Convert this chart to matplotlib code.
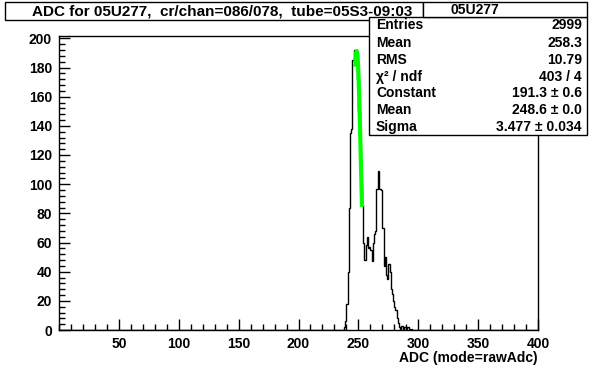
import numpy as np
from matplotlib import pyplot as plt
from matplotlib.ticker import MultipleLocator, FixedLocator

plt.rcParams['font.family'] = ['Liberation Sans', 'DejaVu Sans']
plt.rcParams['font.weight'] = 'bold'

# histogram contents (1 ADC wide bins)
adc = [238, 239, 240, 241, 242, 243, 244, 245, 246, 247, 248, 249, 250, 251,
       252, 253, 254, 255, 256, 257, 258, 259, 260, 261, 262, 263, 264, 265,
       266, 267, 268, 269, 270, 271, 272, 273, 274, 275, 276, 277, 278, 279,
       280, 281, 282, 283, 284, 285, 286, 287, 288, 289, 290, 291, 292, 294]
counts = [2, 6, 18, 40, 84, 135, 138, 185, 192, 190, 188, 172, 150, 122,
          100, 86, 60, 48, 58, 64, 56, 57, 55, 47, 60, 66, 68, 97,
          109, 97, 97, 96, 70, 44, 50, 38, 35, 45, 40, 28, 25, 20,
          16, 14, 8, 5, 2, 1, 3, 1, 2, 2, 1, 2, 1, 1]

# gaussian fit result
fit_const = 191.3
fit_mean = 248.6
fit_sigma = 3.477
fit_range = (247.5, 253.0)

title = 'ADC for 05U277,  cr/chan=086/078,  tube=05S3-09:03'
stat_name = '05U277'
stat_rows = [('Entries', '2999'),
             ('Mean', '258.3'),
             ('RMS', '10.79'),
             ('\u03c7\u00b2 / ndf', '403 / 4'),
             ('Constant', '191.3 \u00b1 0.6'),
             ('Mean', '248.6 \u00b1 0.0'),
             ('Sigma', '3.477 \u00b1 0.034')]

W, H = 596, 368
fig = plt.figure(figsize=(W / 100, H / 100), dpi=100)
ax = fig.add_axes([59 / W, 1 - 330 / H, (538 - 59) / W, (330 - 36) / H])

edges = np.arange(0, 401)
h = np.zeros(400)
for a, c in zip(adc, counts):
    h[a] = c
ax.stairs(h, edges, color='black', lw=1.0)

xf = np.linspace(fit_range[0], fit_range[1], 40)
ax.plot(xf, fit_const * np.exp(-0.5 * ((xf - fit_mean) / fit_sigma) ** 2),
        color='#00ff00', lw=3)

ax.set_xlim(0, 400)
ax.set_ylim(0, 201.6)
ax.xaxis.set_major_locator(FixedLocator(np.arange(50, 401, 50)))
ax.xaxis.set_minor_locator(MultipleLocator(10))
ax.yaxis.set_major_locator(MultipleLocator(20))
ax.yaxis.set_minor_locator(MultipleLocator(4))
ax.tick_params(which='both', direction='in', top=False, right=False,
               labelsize=10, width=1, pad=5)
ax.tick_params(which='major', length=8)
ax.tick_params(which='minor', length=4)
for lab in ax.get_xticklabels() + ax.get_yticklabels():
    lab.set_fontweight('bold')
for s in ax.spines.values():
    s.set_linewidth(1)

fig.text(538 / W, 1 - 358 / H, 'ADC (mode=rawAdc)', ha='right', va='center',
         fontsize=10, fontweight='bold')

# title box
fig.patches.append(plt.Rectangle((5 / W, 1 - 20 / H), (423 - 5) / W, 18 / H,
                                 transform=fig.transFigure, fill=False,
                                 edgecolor='black', lw=1))
fig.text(222 / W, 1 - 11 / H, title, ha='center', va='center',
         fontsize=11, fontweight='bold')

# stats box
fig.patches.append(plt.Rectangle((369 / W, 1 - 135 / H), (587 - 369) / W,
                                 (135 - 17) / H, transform=fig.transFigure,
                                 facecolor='white', edgecolor='black', lw=1))
fig.patches.append(plt.Rectangle((423 / W, 1 - 17 / H), (587 - 423) / W,
                                 15 / H, transform=fig.transFigure,
                                 facecolor='white', edgecolor='black', lw=1))
fig.text(475 / W, 1 - 9.5 / H, stat_name, ha='center', va='center',
         fontsize=10, fontweight='bold')
row_y = [25, 43, 60, 77, 93, 110, 127]
for (k, v), y in zip(stat_rows, row_y):
    fig.text(376 / W, 1 - y / H, k, ha='left', va='center', fontsize=10,
             fontweight='bold')
    fig.text(582 / W, 1 - y / H, v, ha='right', va='center', fontsize=10,
             fontweight='bold')

fig.savefig('out.png', dpi=100)
